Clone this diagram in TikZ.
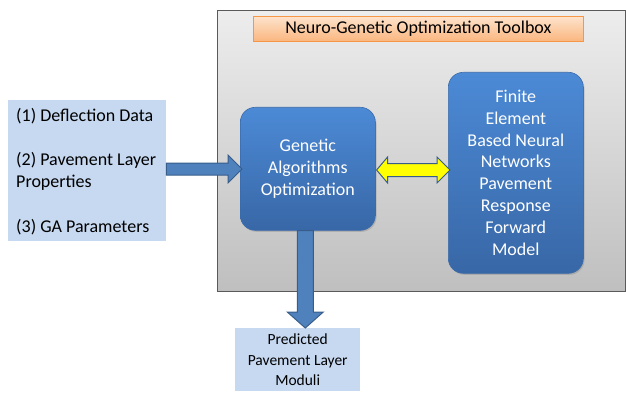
\documentclass[tikz,border=0pt]{standalone}
\usepackage{fontspec}
\setmainfont{Carlito}
\usetikzlibrary{calc,shadows}

\definecolor{panelTop}{HTML}{EDEDED}
\definecolor{panelBot}{HTML}{BFBFBF}
\definecolor{panelLine}{HTML}{5A5A5A}
\definecolor{titleTop}{HTML}{FDE3CC}
\definecolor{titleBot}{HTML}{FAB67E}
\definecolor{titleLine}{HTML}{F79646}
\definecolor{paleBlue}{HTML}{C6D9F1}
\definecolor{blockTop}{HTML}{4C8AD6}
\definecolor{blockBot}{HTML}{3867A6}
\definecolor{blockLine}{HTML}{3A6BAA}
\definecolor{arrowFill}{HTML}{4F81BD}
\definecolor{arrowLine}{HTML}{385D8A}
\definecolor{hiYellow}{HTML}{FFFF00}

\tikzset{
  panel/.style={draw=panelLine, line width=0.8pt, top color=panelTop, bottom color=panelBot,
    anchor=north west, inner sep=0pt},
  titlebox/.style={draw=titleLine, line width=0.7pt, top color=titleTop, bottom color=titleBot,
    anchor=north west, inner sep=0pt, font=\fontsize{18}{22}\selectfont, text=black},
  infobox/.style={fill=paleBlue, anchor=north west, inner sep=0pt},
  block/.style={draw=blockLine, line width=0.6pt, rounded corners=15pt,
    top color=blockTop, bottom color=blockBot, text=white, align=center,
    anchor=north west, inner sep=0pt, font=\fontsize{18}{21.9}\selectfont,
    drop shadow={opacity=0.35, shadow xshift=1.2pt, shadow yshift=-1.5pt}},
  bluearrow/.style={fill=arrowFill, draw=arrowLine, line width=1pt, line join=miter},
  yellowarrow/.style={fill=hiYellow, draw=arrowLine, line width=1pt, line join=miter},
}

\begin{document}
\begin{tikzpicture}[x=1pt, y=-1pt]
\useasboundingbox (0,0) rectangle (626,393);

% toolbox panel and its title
\node[panel, minimum width=408pt, minimum height=281pt] (panel) at (217,10) {};
\node[titlebox, minimum width=330pt, minimum height=25pt] (title) at (253,16)
  {Neuro-Genetic Optimization Toolbox};

% inputs
\node[infobox, minimum width=158pt, minimum height=141pt] (inputs) at (8,100) {};
\node[anchor=west, align=left, inner sep=0pt, font=\fontsize{18}{22.2}\selectfont]
  (inputtext) at (16,171.5)
  {(1) Deflection Data\\ \strut\\ (2) Pavement Layer\\ Properties\\ \strut\\ (3) GA Parameters};

% processing blocks
\node[block, minimum width=135pt, minimum height=123pt] (ga) at (240,107)
  {Genetic\\ Algorithms\\ Optimization};
\node[block, minimum width=135pt, minimum height=201pt] (fe) at (448,72)
  {Finite\\ Element\\ Based Neural\\ Networks\\ Pavement\\ Response\\ Forward\\ Model};

% output
\node[infobox, minimum width=125pt, minimum height=63pt] (output) at (235,328) {};
\node[align=center, inner sep=0pt, font=\fontsize{15.5}{20.5}\selectfont] (outputtext)
  at (output.center) {Predicted\\ Pavement Layer\\ Moduli};

% inputs -> genetic algorithms
\coordinate (la) at (inputs.east |- 0,169);
\coordinate (lb) at (ga.west |- 0,169);
\draw[bluearrow] ($(la)+(0,-6)$) -- ($(lb)+(-12,-6)$) -- ($(lb)+(-12,-14)$)
  -- ($(lb)+(2,0)$) -- ($(lb)+(-12,14)$) -- ($(lb)+(-12,6)$) -- ($(la)+(0,6)$) -- cycle;

% genetic algorithms <-> neural network model
\coordinate (ya) at (ga.east |- 0,170);
\coordinate (yb) at (fe.west |- 0,170);
\draw[yellowarrow] ($(ya)+(1,0)$) -- ($(ya)+(12,-13)$) -- ($(ya)+(12,-6.5)$)
  -- ($(yb)+(-11,-6.5)$) -- ($(yb)+(-11,-13)$) -- ($(yb)+(2,0)$)
  -- ($(yb)+(-11,13)$) -- ($(yb)+(-11,6.5)$) -- ($(ya)+(12,6.5)$)
  -- ($(ya)+(12,13)$) -- cycle;

% genetic algorithms -> predicted moduli
\coordinate (da) at ($(ga.south)+(-2.5,0)$);
\coordinate (db) at (da |- output.north);
\draw[bluearrow] ($(da)+(-8,0)$) -- ($(db)+(-8,-16)$) -- ($(db)+(-18,-16)$)
  -- (db) -- ($(db)+(18,-16)$) -- ($(db)+(8,-16)$) -- ($(da)+(8,0)$) -- cycle;
\end{tikzpicture}
\end{document}
